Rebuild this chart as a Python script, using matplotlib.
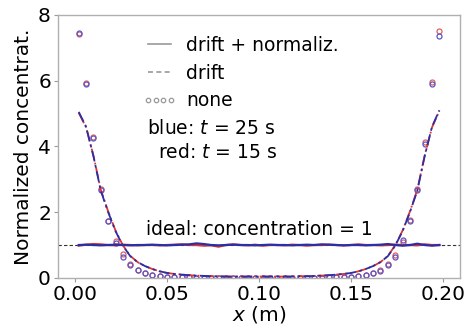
import matplotlib
matplotlib.use("Agg")
import matplotlib.pyplot as plt
from matplotlib.lines import Line2D
import numpy as np

# ---- data ----
x = [0.002 + 0.004 * i for i in range(50)]

none_blue = [7.45, 5.90, 4.26, 2.68, 1.72, 1.06, 0.64, 0.40, 0.24, 0.15,
             0.09, 0.06, 0.04, 0.03, 0.02, 0.02, 0.01, 0.01, 0.01, 0.01,
             0.01, 0.01, 0.01, 0.01, 0.01, 0.01, 0.01, 0.01, 0.01, 0.01,
             0.01, 0.01, 0.01, 0.01, 0.02, 0.02, 0.03, 0.04, 0.06, 0.09,
             0.14, 0.22, 0.40, 0.65, 1.15, 1.73, 2.68, 4.08, 5.90, 7.36]
none_red = [7.42, 5.92, 4.28, 2.70, 1.74, 1.12, 0.73, 0.42, 0.25, 0.15,
            0.09, 0.06, 0.04, 0.03, 0.02, 0.02, 0.01, 0.01, 0.01, 0.01,
            0.01, 0.01, 0.01, 0.01, 0.01, 0.01, 0.01, 0.01, 0.01, 0.01,
            0.01, 0.01, 0.01, 0.01, 0.02, 0.02, 0.03, 0.04, 0.06, 0.09,
            0.15, 0.24, 0.42, 0.70, 1.10, 1.76, 2.70, 4.12, 5.95, 7.50]

drift_blue = [5.05, 4.60, 3.70, 2.65, 2.00, 1.42, 0.98, 0.66, 0.48, 0.36,
              0.27, 0.20, 0.15, 0.12, 0.10, 0.08, 0.07, 0.06, 0.05, 0.05,
              0.04, 0.04, 0.04, 0.04, 0.04, 0.04, 0.04, 0.04, 0.04, 0.04,
              0.05, 0.05, 0.06, 0.07, 0.08, 0.10, 0.12, 0.15, 0.20, 0.27,
              0.36, 0.48, 0.66, 0.98, 1.42, 2.00, 2.65, 3.70, 4.60, 5.10]
drift_red = [5.02, 4.58, 3.72, 2.68, 2.02, 1.44, 0.99, 0.67, 0.48, 0.36,
             0.27, 0.20, 0.15, 0.12, 0.10, 0.08, 0.07, 0.06, 0.05, 0.05,
             0.04, 0.04, 0.04, 0.04, 0.04, 0.04, 0.04, 0.04, 0.04, 0.04,
             0.05, 0.05, 0.06, 0.07, 0.08, 0.10, 0.12, 0.15, 0.20, 0.27,
             0.36, 0.48, 0.67, 0.99, 1.44, 2.02, 2.68, 3.72, 4.58, 5.08]

norm_blue = [1.00, 1.01, 1.00, 0.99, 1.00, 1.01, 1.00, 0.99, 1.00, 1.00,
             1.01, 1.00, 0.99, 1.00, 1.01, 1.02, 1.05, 1.03, 1.00, 0.99,
             1.00, 1.01, 1.00, 1.00, 0.99, 1.00, 1.01, 1.00, 1.00, 0.99,
             1.00, 1.01, 1.00, 1.02, 1.01, 1.00, 0.99, 1.00, 1.00, 0.99,
             1.00, 1.01, 1.03, 1.00, 0.98, 1.00, 1.04, 1.00, 0.98, 1.00]
norm_red = [0.98, 1.01, 1.03, 1.02, 1.00, 0.99, 1.01, 1.00, 0.99, 1.00,
            1.00, 0.99, 1.00, 1.01, 1.02, 1.00, 1.00, 0.98, 0.99, 0.95,
            1.00, 1.02, 1.00, 0.99, 1.01, 0.98, 1.00, 1.00, 0.99, 1.01,
            1.00, 0.98, 1.00, 1.00, 1.01, 1.00, 0.99, 1.00, 1.02, 1.00,
            1.00, 0.99, 1.00, 1.01, 1.00, 1.00, 0.99, 1.02, 1.00, 1.00]

ideal = 1.0
xticks = [0.00, 0.05, 0.10, 0.15, 0.20]
yticks = [0, 2, 4, 6, 8]

BLUE = "#2b2fa6"
RED = "#e2332b"
CBLUE = "#5a55c8"
CRED = "#e0605a"
GRAY = "#9a9a9a"

fig = plt.figure(figsize=(4.71, 3.32), dpi=100)
ax = fig.add_axes([0.123, 0.163, 0.854, 0.792])

ax.axhline(ideal, color="#333333", lw=0.8, ls=(0, (3, 2)), zorder=1)

ax.plot(x, none_red, ls="none", marker="o", ms=3.6, mfc="none", mec=CRED, mew=0.9, zorder=2)
ax.plot(x, none_blue, ls="none", marker="o", ms=3.6, mfc="none", mec=CBLUE, mew=0.9, zorder=2)

ax.plot(x, drift_red, color=RED, lw=1.3, ls="-.", zorder=3)
ax.plot(x, drift_blue, color=BLUE, lw=1.3, ls=(0, (6, 2, 1.5, 2)), zorder=3)

ax.plot(x, norm_red, color=RED, lw=1.6, zorder=4)
ax.plot(x, norm_blue, color=BLUE, lw=1.6, zorder=5)

ax.set_xlim(-0.0093, 0.2093)
ax.set_ylim(0, 8)
ax.set_xticks(xticks)
ax.set_xticklabels([f"{v:.2f}" for v in xticks])
ax.set_yticks(yticks)
ax.tick_params(labelsize=14.5, length=3, width=0.8, color=GRAY, pad=2)
for s in ax.spines.values():
    s.set_color("#b0b0b0")
    s.set_linewidth(1.0)

ax.set_xlabel("$x$ (m)", fontsize=14.5, labelpad=0)
ax.set_ylabel("Normalized concentrat.", fontsize=14.5, labelpad=4)

handles = [
    Line2D([], [], color=GRAY, lw=1.2, ls="-"),
    Line2D([], [], color=GRAY, lw=1.2, ls=(0, (3, 2))),
    Line2D([], [], color=GRAY, ls="none", marker="o", ms=3.2, mfc="none", mew=0.9),
]
labels = ["drift + normaliz.", "drift", "none"]
leg = ax.legend(handles, labels, loc="upper left", bbox_to_anchor=(0.21, 0.921),
                frameon=False, fontsize=13.5, handlelength=1.8, handletextpad=0.55,
                labelspacing=0.47, borderpad=0, borderaxespad=0, numpoints=4)

ax.text(0.221, 0.570, "blue: $t$ = 25 s", transform=ax.transAxes, fontsize=13.5,
        va="center", ha="left")
ax.text(0.249, 0.475, "red: $t$ = 15 s", transform=ax.transAxes, fontsize=13.5,
        va="center", ha="left")
ax.text(0.0386, 1.31, "ideal: concentration = 1", fontsize=13.5, va="baseline", ha="left")

fig.savefig("out.png", dpi=100)
